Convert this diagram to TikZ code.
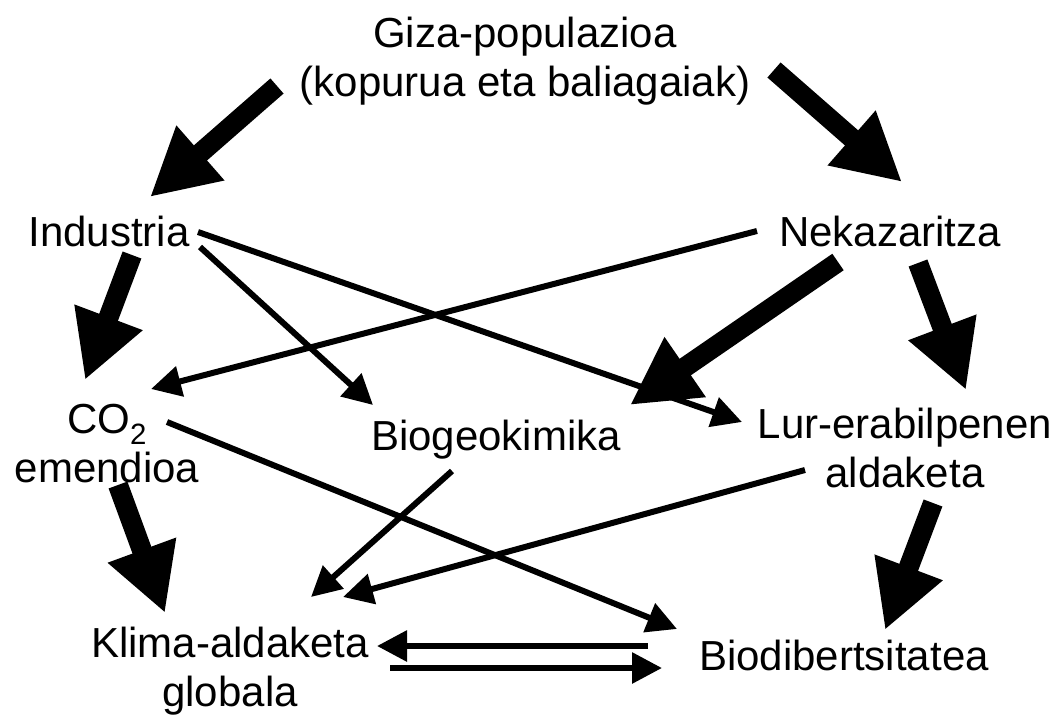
\documentclass[tikz,border=0pt]{standalone}
\usepackage{fontspec}
\setmainfont{Liberation Sans}
\usetikzlibrary{arrows.meta}
\begin{document}
\begin{tikzpicture}[x=1pt,y=-1pt,
  lbl/.style={inner sep=0pt, align=center, font=\fontsize{42}{49}\selectfont},
  fat/.style={line width=20pt, -{Triangle[length=67pt,width=68pt]}},
  thin/.style={line width=6pt, -{Triangle[length=30pt,width=30pt]}}]
\useasboundingbox (0,0) rectangle (1061,715);
% nodes
\node[lbl] (giza) at (525,61.7) {\strut Giza-populazioa\\\strut (kopurua eta baliagaiak)};
\node[lbl] (ind) at (109,236.2) {\strut Industria};
\node[lbl] (nek) at (890,236.2) {\strut Nekazaritza};
\node[lbl] (co2) at (107,447.7) {\strut CO\textsubscript{2}\\\strut emendioa};
\node[lbl] (bgk) at (496,440.2) {\strut Biogeokimika};
\node[lbl] (lur) at (905,452.7) {\strut Lur-erabilpenen\\\strut aldaketa};
\node[lbl] (kli) at (230,671.7) {\strut Klima-aldaketa\\\strut globala};
\node[lbl] (bio) at (844,660.2) {\strut Biodibertsitatea};
% connector end points
\coordinate (giza-l) at (277,86);   \coordinate (ind-t) at (150,197);
\coordinate (giza-r) at (774,70);   \coordinate (nek-t) at (902,182);
\coordinate (ind-b) at (132,255);   \coordinate (co2-t) at (85,380);
\coordinate (nek-bl) at (838,262);  \coordinate (bgk-tr) at (630,405);
\coordinate (nek-br) at (918,263);  \coordinate (lur-t) at (966,390);
\coordinate (co2-b) at (118,485);   \coordinate (kli-t) at (165,613);
\coordinate (lur-b) at (933,503);   \coordinate (bio-t) at (885,630);
\coordinate (ind-r1) at (200,247);  \coordinate (bgk-tl) at (373,405);
\coordinate (ind-r2) at (198,232);  \coordinate (lur-l) at (742,422);
\coordinate (nek-l) at (757,231);   \coordinate (co2-tr) at (151,389);
\coordinate (co2-r) at (167,422);   \coordinate (bio-tl) at (677,629);
\coordinate (bgk-b) at (452,471);   \coordinate (kli-tr1) at (311,597);
\coordinate (lur-bl) at (805,470);  \coordinate (kli-tr2) at (343,597);
\coordinate (bio-l1) at (648,646);  \coordinate (kli-r1) at (377,646);
\coordinate (kli-r2) at (390,668);  \coordinate (bio-l2) at (662,668);
% fat arrows
\draw[fat] (giza-l) -- (ind-t);
\draw[fat] (giza-r) -- (nek-t);
\draw[fat] (ind-b) -- (co2-t);
\draw[fat] (nek-bl) -- (bgk-tr);
\draw[fat] (nek-br) -- (lur-t);
\draw[fat] (co2-b) -- (kli-t);
\draw[fat] (lur-b) -- (bio-t);
% thin arrows
\draw[thin] (ind-r1) -- (bgk-tl);
\draw[thin] (ind-r2) -- (lur-l);
\draw[thin] (nek-l) -- (co2-tr);
\draw[thin] (co2-r) -- (bio-tl);
\draw[thin] (bgk-b) -- (kli-tr1);
\draw[thin] (lur-bl) -- (kli-tr2);
\draw[thin] (bio-l1) -- (kli-r1);
\draw[thin] (kli-r2) -- (bio-l2);
\end{tikzpicture}
\end{document}
